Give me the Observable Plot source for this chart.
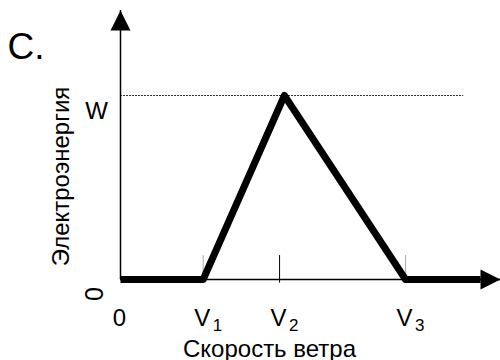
<!DOCTYPE html>
<html>
<head>
<meta charset="utf-8">
<script src="https://cdn.jsdelivr.net/npm/d3@7"></script>
<script src="https://cdn.jsdelivr.net/npm/@observablehq/plot@0.6"></script>
<style>
  html, body { margin: 0; padding: 0; background: #fff; }
  #chart { width: 500px; height: 360px; }
</style>
</head>
<body>
<div id="chart"></div>
<script>
// ---- data ----
const panelLabel = "C.";
const xTitle = "Скорость ветра";
const yTitle = "Электроэнергия";
const yZeroLabel = "0";
const wLabel = "W";
const wLevel = 1;                      // power level W
const profileX = [0, 2.9, 5.75, 10, 12.63];   // wind speed points
const profileY = [0, 0, 1, 0, 0];             // energy at those points
const tickPos = [2.9, 5.58, 10];              // V1, V2, V3 marks on axis
const xLabels = ["0", "V", "V", "V"];
const xLabelSubs = ["", "1", "2", "3"];
const xLabelPos = [0, 2.9, 5.58, 10];
const wLineEnd = 12.04;
const xMax = 13.33;
const yMax = 1.462;

// ---- tables ----
const profile = profileX.map((x, i) => ({x, y: profileY[i]}));
const labels = xLabels.map((t, i) => ({x: xLabelPos[i], t, sub: xLabelSubs[i]}));
const ticks = tickPos.map((x, i) => ({x, i}));

const FONT = "'Liberation Sans', Arial, sans-serif";

const arrowHead = {
  draw(ctx) {
    ctx.moveTo(0, 0);
    ctx.lineTo(10, 20);
    ctx.lineTo(-10, 20);
    ctx.closePath();
  }
};

const chart = Plot.plot({
  width: 500,
  height: 360,
  margin: 0,
  style: {fontFamily: FONT, background: "#fff"},
  x: {domain: [0, xMax], range: [120, 500], axis: null},
  y: {domain: [0, yMax], range: [279, 10], axis: null},
  marks: [
    // dotted W level
    Plot.ruleY([wLevel], {x1: 0, x2: wLineEnd, stroke: "#333", strokeWidth: 1, strokeDasharray: "2,1"}),
    // axes
    Plot.ruleX([0], {y1: 0, y2: yMax, stroke: "#000", strokeWidth: 1.5}),
    Plot.ruleY([0], {x1: 0, x2: xMax, stroke: "#000", strokeWidth: 1.5}),
    // tick marks
    Plot.ruleX(ticks, {x: "x", y1: d => d.i === 1 ? -0.02 : 0, y2: 0.13,
      stroke: d => d.i === 1 ? "#000" : "#aaa", strokeWidth: 1}),
    // arrowheads
    Plot.dot([[0, yMax]], {x: d => d[0], y: d => d[1], symbol: arrowHead, fill: "#000", stroke: "none", r: 5}),
    Plot.dot([[xMax, 0]], {x: d => d[0], y: d => d[1], symbol: arrowHead, fill: "#000", stroke: "none", r: 5, rotate: 90}),
    // profile
    Plot.line(profile, {x: "x", y: "y", stroke: "#000", strokeWidth: 7, strokeLinejoin: "round", strokeLinecap: "butt"}),
    // x labels
    Plot.text(labels, {x: "x", y: () => 0, text: "t", dy: 46, dx: -1, lineAnchor: "bottom", textAnchor: "middle", fontSize: 24, fill: "#000"}),
    Plot.text(labels.filter(d => d.sub), {x: "x", y: () => 0, text: "sub", dy: 51, dx: 9.5, lineAnchor: "bottom", textAnchor: "start", fontSize: 17, fill: "#000"}),
    // W label
    Plot.text([wLevel], {x: () => 0, y: d => d, text: () => wLabel, dx: -24, dy: 23, lineAnchor: "bottom", textAnchor: "middle", fontSize: 24, fill: "#000"}),
    // titles
    Plot.text([xTitle], {frameAnchor: "top-left", text: d => d, dx: 269, dy: 356, lineAnchor: "bottom", textAnchor: "middle", fontSize: 24, fill: "#000"}),
    Plot.text([yTitle], {frameAnchor: "top-left", text: d => d, dx: 68, dy: 176, rotate: -90, lineAnchor: "bottom", textAnchor: "middle", fontSize: 24, fill: "#000"}),
    Plot.text([yZeroLabel], {frameAnchor: "top-left", text: d => d, dx: 102, dy: 293.5, rotate: -90, lineAnchor: "bottom", textAnchor: "middle", fontSize: 25, fill: "#000"}),
    Plot.text([panelLabel], {frameAnchor: "top-left", text: d => d, dx: 7, dy: 58, lineAnchor: "bottom", textAnchor: "start", fontSize: 37, fill: "#000"})
  ]
});
document.getElementById("chart").appendChild(chart);
</script>
</body>
</html>
